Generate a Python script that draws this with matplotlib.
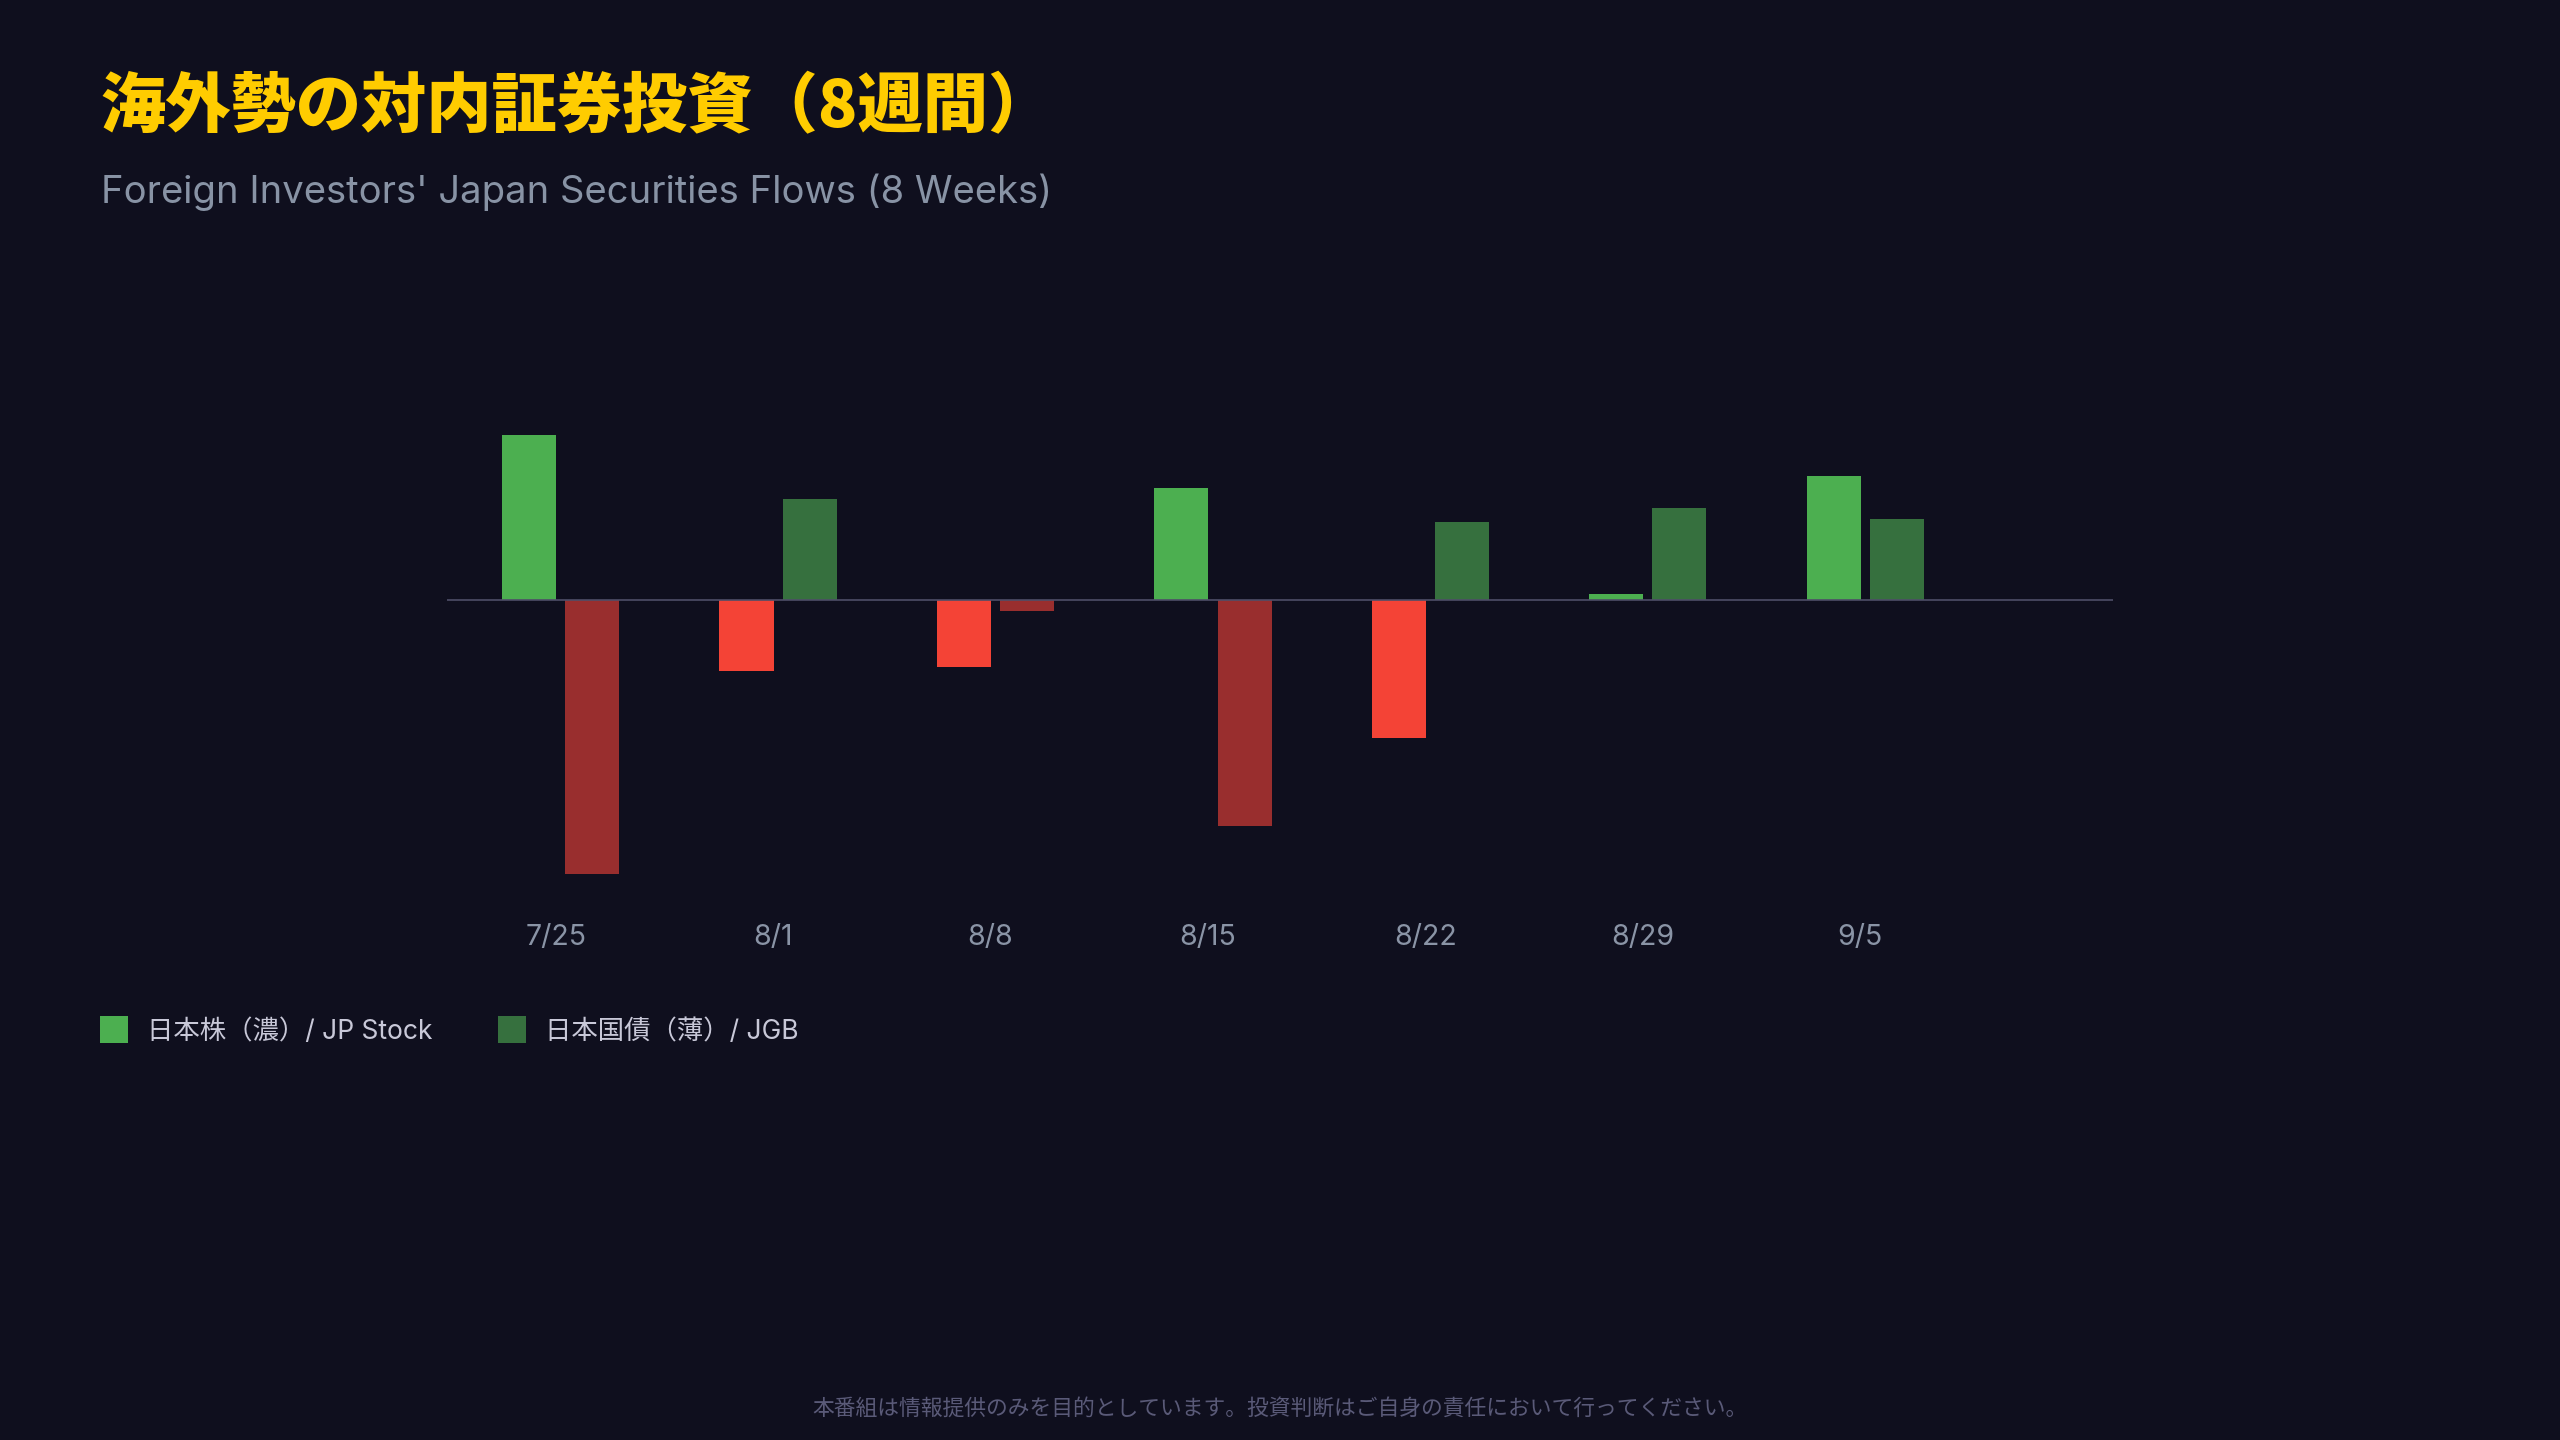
import matplotlib
matplotlib.use('Agg')
import matplotlib.pyplot as plt
import matplotlib.patches as mpatches
import matplotlib.transforms as mtransforms
import numpy as np

plt.rcParams['font.family'] = ['Noto Sans CJK JP', 'DejaVu Sans']
LATIN = ['Inter', 'Noto Sans CJK JP', 'DejaVu Sans']

# ── data (億円, weekly net flows) ─────────────────────────────
weeks = ['7/25', '8/1', '8/8', '8/15', '8/22', '8/29', '9/5']
jp_stock = [3300, -1420, -1330, 2250, -2760, 130, 2490]
jgb = [-5470, 2020, -210, -4520, 1570, 1840, 1630]

BG = '#0f0f1e'
STOCK_POS, STOCK_NEG = '#4caf50', '#f44336'
JGB_POS, JGB_NEG = '#36703e', '#992e2e'

W, H = 2560, 1440
fig = plt.figure(figsize=(W / 100, H / 100), dpi=100)
fig.patch.set_facecolor(BG)

def fx(px):
    return px / W

def fy(py):
    return 1 - py / H

# ── titles ───────────────────────────────────────────────────
fig.text(fx(100), fy(108), '海外勢の対内証券投資（8週間）', fontsize=47,
         fontweight='black', color='#ffcc00', ha='left', va='center')
fig.text(fx(101), fy(203), "Foreign Investors' Japan Securities Flows (8 Weeks)",
         fontsize=27.5, color='#8893a5', ha='left', va='baseline',
         family=LATIN)

# ── chart ────────────────────────────────────────────────────
ax = fig.add_axes([fx(447), fy(900), fx(2113) - fx(447), (900 - 380) / H])
ax.set_facecolor(BG)
for s in ax.spines.values():
    s.set_visible(False)
ax.set_xticks([])
ax.set_yticks([])

x = np.arange(len(weeks))
bw, off = 0.2485, 0.1454
ax.bar(x - off, jp_stock, bw,
       color=[STOCK_POS if v >= 0 else STOCK_NEG for v in jp_stock], zorder=2)
ax.bar(x + off, jgb, bw,
       color=[JGB_POS if v >= 0 else JGB_NEG for v in jgb], zorder=2)
ax.axhline(0, color='#4e4e68', lw=1.2, zorder=3)
ax.set_xlim(-0.523, 7.14)
ax.set_ylim(-6000, 4400)

trans = mtransforms.blended_transform_factory(ax.transData, ax.transAxes)
for xi, lab in zip(x, weeks):
    ax.text(xi - 0.023, -45 / 520, lab, transform=trans, fontsize=20.5,
            color='#8a94a6', ha='center', va='baseline', family=LATIN)

# ── legend ───────────────────────────────────────────────────
legend_items = [
    (100, STOCK_POS, '日本株（濃）/ JP Stock'),
    (498, JGB_POS, '日本国債（薄）/ JGB'),
]
for lx, c, lab in legend_items:
    fig.patches.append(mpatches.Rectangle((fx(lx), fy(1043)), 28 / W, 27 / H,
                                          transform=fig.transFigure,
                                          facecolor=c, edgecolor='none'))
    fig.text(fx(lx + 47), fy(1039), lab, fontsize=19, color='#c8c8d8',
             ha='left', va='baseline', family=LATIN)

# ── footer ───────────────────────────────────────────────────
fig.text(0.5, fy(1409),
         '本番組は情報提供のみを目的としています。投資判断はご自身の責任において行ってください。',
         fontsize=15.7, color='#5a5a78', ha='center', va='center')

fig.savefig('out.png', dpi=100, facecolor=BG)
